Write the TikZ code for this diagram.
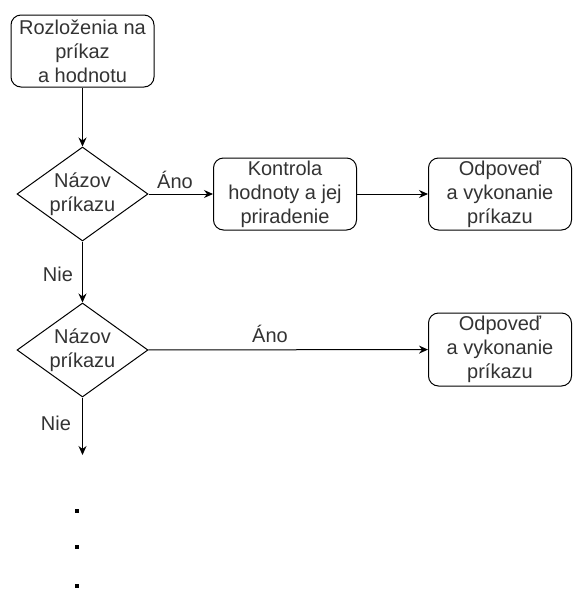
\documentclass[tikz,border=0pt]{standalone}
\usepackage{fontspec}
\setmainfont{Liberation Sans}
\usetikzlibrary{shapes.geometric,arrows.meta}
\begin{document}
\begin{tikzpicture}[x=1pt,y=-1pt,
  every node/.style={font=\fontsize{20}{24}\selectfont, text=black!80},
  procbox/.style={draw=black, line width=1pt, rounded corners=10pt, align=center,
    minimum width=143pt, minimum height=72pt, inner sep=0pt},
  decision/.style={draw=black, line width=1pt, diamond, inner sep=0pt,
    minimum width=131pt, minimum height=94pt},
  flow/.style={draw=black, line width=1pt, -{Stealth[length=9pt,width=8pt,inset=3pt]}},
  edgelabel/.style={inner sep=0pt},
  dotmark/.style={fill=black, minimum size=4.5pt, inner sep=0pt}
]
\useasboundingbox (0,0) rectangle (576,590);

% processing steps
\node[procbox] (parse) at (82.5,51) {Rozloženia na\\príkaz\\a hodnotu};
\node[decision, label={[align=center]center:Názov\\príkazu}] (name1) at (82.5,194) {};
\node[procbox] (check) at (285,194) {Kontrola\\hodnoty a jej\\priradenie};
\node[procbox] (reply1) at (500,194) {Odpoveď\\a vykonanie\\príkazu};
\node[decision, label={[align=center]center:Názov\\príkazu}] (name2) at (82.5,350) {};
\node[procbox, minimum height=73pt] (reply2) at (500,349.5) {Odpoveď\\a vykonanie\\príkazu};
\coordinate (more) at (82.5,455);

% connectors
\draw[flow] (parse) -- (name1);
\draw[flow] (name1) -- (check);
\draw[flow] (check) -- (reply1);
\draw[flow] (name1) -- (name2);
\draw[flow] (name2) -- (reply2);
\draw[flow] (name2) -- (more);

% branch labels
\node[edgelabel] (yes1) at (175,180) {Áno};
\node[edgelabel] (no1) at (58,274) {Nie};
\node[edgelabel] (yes2) at (270,334) {Áno};
\node[edgelabel] (no2) at (56,423) {Nie};

% continuation dots
\node[dotmark] (dot1) at (77,511) {};
\node[dotmark] (dot2) at (77,547) {};
\node[dotmark] (dot3) at (77,586) {};
\end{tikzpicture}
\end{document}
